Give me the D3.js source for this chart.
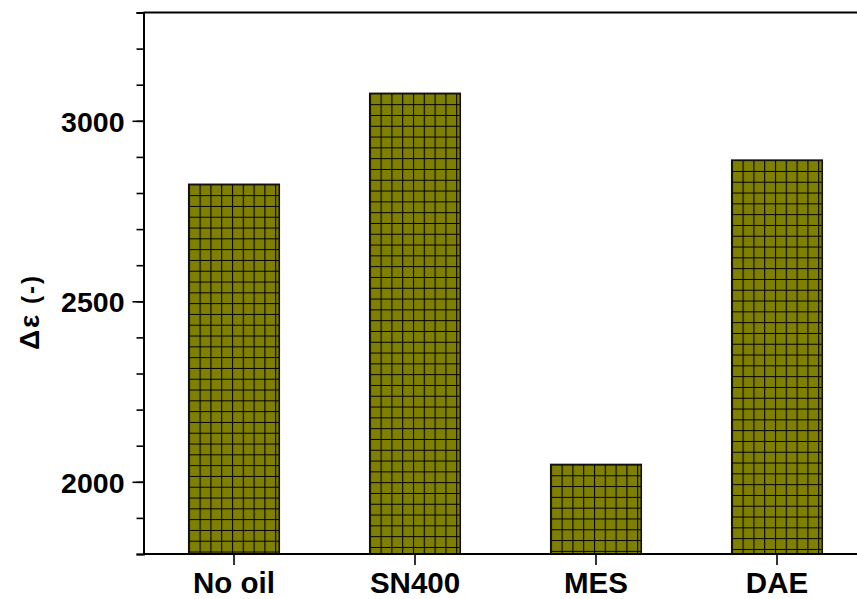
<!DOCTYPE html>
<html>
<head>
<meta charset="utf-8">
<script src="https://cdn.jsdelivr.net/npm/d3@7"></script>
<style>
  html, body { margin: 0; padding: 0; background: #fff; }
  svg { display: block; }
  text { font-family: "Liberation Sans", Arial, sans-serif; font-weight: bold; fill: #000; }
</style>
</head>
<body>
<svg id="chart" width="857" height="599"></svg>
<script>
// Oil types and the measured Δε for each
const categories = ["No oil", "SN400", "MES", "DAE"];
const values = [2824, 3076, 2048, 2891];
const yMajorTicks = [2000, 2500, 3000];
const yDomain = [1800, 3300];

const W = 857, H = 599;
const margin = { left: 143.5, top: 12.5, bottom: 45 };
const plotRight = 867.5;

const svg = d3.select("#chart");

const x = d3.scaleBand()
  .domain(categories)
  .range([margin.left, plotRight])
  .paddingInner(0.5)
  .paddingOuter(0.25);

const y = d3.scaleLinear()
  .domain(yDomain)
  .range([H - margin.bottom, margin.top]);

// Grid hatch for the bars, anchored at each bar's top-left corner
const cell = 10.8;
const defs = svg.append("defs");
categories.forEach((c, i) => {
  const p = defs.append("pattern")
    .attr("id", "grid" + i)
    .attr("patternUnits", "userSpaceOnUse")
    .attr("x", x(c))
    .attr("y", y(values[i]))
    .attr("width", cell)
    .attr("height", cell);
  p.append("rect").attr("width", cell).attr("height", cell).attr("fill", "#808000");
  p.append("path")
    .attr("d", `M0,0H${cell}M0,0V${cell}`)
    .attr("stroke", "#000")
    .attr("stroke-width", 2.2)
    .attr("fill", "none");
});

// Bars
svg.append("g")
  .selectAll("rect")
  .data(categories)
  .join("rect")
  .attr("x", d => x(d))
  .attr("y", (d, i) => y(values[i]))
  .attr("width", x.bandwidth())
  .attr("height", (d, i) => y(yDomain[0]) - y(values[i]))
  .attr("fill", (d, i) => `url(#grid${i})`)
  .attr("stroke", "#111")
  .attr("stroke-width", 1.6);

// Frame: top border
svg.append("line")
  .attr("x1", margin.left).attr("x2", W)
  .attr("y1", y(yDomain[1])).attr("y2", y(yDomain[1]))
  .attr("stroke", "#000").attr("stroke-width", 2);

// Y axis with minor ticks every 100
const yAxisG = svg.append("g").attr("transform", `translate(${margin.left},0)`);
yAxisG.call(d3.axisLeft(y).tickValues(d3.range(1800, 3301, 100)).tickSize(7).tickFormat(""));
yAxisG.call(g => g.selectAll(".tick line").attr("stroke-width", 1.6));
const yMajor = svg.append("g").attr("transform", `translate(${margin.left},0)`)
  .call(d3.axisLeft(y).tickValues(yMajorTicks).tickSize(11).tickPadding(8).tickFormat(d3.format("d")));
yMajor.select(".domain").remove();
yMajor.selectAll(".tick line").attr("stroke-width", 1.6);
yMajor.selectAll(".tick text")
  .style("font-size", "28.5px")
  .attr("dy", "0.36em");
yAxisG.select(".domain").attr("stroke-width", 2);
svg.selectAll(".domain").attr("stroke", "#000");

// X axis
const xAxisG = svg.append("g")
  .attr("transform", `translate(0,${H - margin.bottom})`)
  .call(d3.axisBottom(x).tickSize(11).tickPadding(7).tickSizeOuter(0));
xAxisG.select(".domain").attr("stroke-width", 2).attr("d", `M${margin.left},0H${plotRight}`);
xAxisG.selectAll(".tick line").attr("stroke-width", 1.6);
xAxisG.selectAll(".tick text").style("font-size", "29.5px");

// Y axis title: Greek symbols set a little larger than the unit
const yTitle = svg.append("text")
  .attr("transform", `translate(39,312) rotate(-90)`)
  .attr("text-anchor", "middle");
yTitle.append("tspan").style("font-size", "28px").style("letter-spacing", "2px").text("Δε");
yTitle.append("tspan").style("font-size", "24px").style("letter-spacing", "2px").text(" (-)");
</script>
</body>
</html>
